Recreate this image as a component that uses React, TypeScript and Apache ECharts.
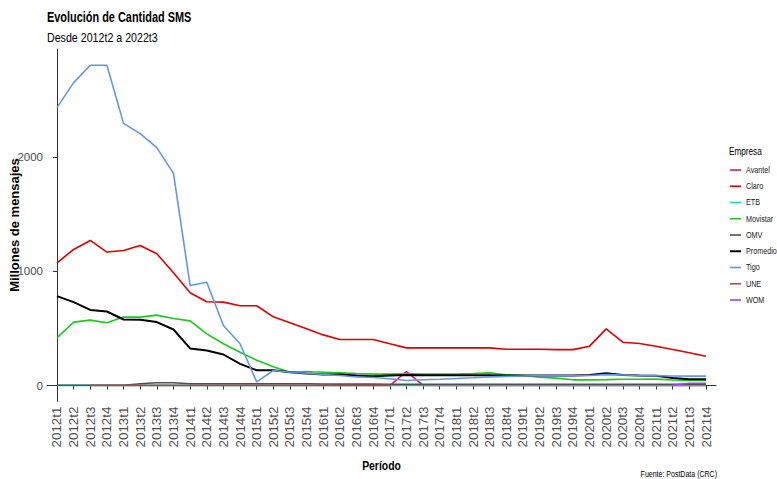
import React, { useEffect, useRef } from "react";
import * as echarts from "echarts";

const periods = [
  "2012t1", "2012t2", "2012t3", "2012t4",
  "2013t1", "2013t2", "2013t3", "2013t4",
  "2014t1", "2014t2", "2014t3", "2014t4",
  "2015t1", "2015t2", "2015t3", "2015t4",
  "2016t1", "2016t2", "2016t3", "2016t4",
  "2017t1", "2017t2", "2017t3", "2017t4",
  "2018t1", "2018t2", "2018t3", "2018t4",
  "2019t1", "2019t2", "2019t3", "2019t4",
  "2020t1", "2020t2", "2020t3", "2020t4",
  "2021t1", "2021t2", "2021t3", "2021t4",
];

const N = null;

const avantel = [
  N, N, N, N, N, N, N, N, N, N, N, N, N, N, N, N, N, N, N, N,
  0, 123, 1, 1, 1, 1, 1, 1, 1, 1, 1, 1, 1, 1, 1, 1, 1, 1, 1, 1,
];
const claro = [
  1076, 1193, 1272, 1170, 1184, 1228, 1155, 988, 813, 734, 731, 699,
  699, 602, 550, 497, 444, 404, 404, 404, 366, 330, 330, 330, 330, 330,
  330, 318, 318, 318, 315, 315, 345, 497, 380, 368, 345, 316, 287, 257,
];
const etb = [
  1, 1, 1, 1, 1, 1, 1, 1, 1, 1, 1, 1, 1, 1, 1, 1, 1, 1, 1, 1,
  1, 1, 1, 1, 1, 1, 1, 1, 1, 1, 1, 1, 1, 1, 1, 1, 1, 1, 1, 1,
];
const movistar = [
  418, 556, 573, 550, 600, 600, 617, 588, 567, 453, 366, 292,
  222, 164, 117, 123, 117, 111, 105, 100, 100, 102, 100, 100, 100, 105,
  111, 95, 88, 73, 65, 50, 50, 52, 55, 55, 56, 48, 45, 45,
];
const omv = [
  2, 2, 2, 2, 3, 15, 25, 25, 15, 15, 15, 15, 15, 15, 15, 15, 14, 12, 12, 12,
  10, 10, 10, 10, 10, 10, 10, 10, 10, 10, 10, 10, 10, 10, 10, 10, 10, 10, 10, 10,
];
const promedio = [
  784, 731, 663, 649, 579, 576, 556, 491, 325, 307, 272, 190,
  134, 134, 117, 105, 96, 96, 88, 82, 88, 93, 90, 90, 90, 90,
  90, 88, 88, 88, 88, 88, 92, 108, 92, 88, 85, 65, 56, 56,
];
const tigo = [
  2436, 2655, 2808, 2808, 2298, 2208, 2085, 1860, 877, 906, 526, 366,
  32, 132, 117, 108, 96, 88, 75, 70, 60, 44, 50, 55, 61, 68,
  76, 80, 84, 87, 87, 88, 88, 96, 92, 88, 87, 84, 82, 82,
];
const une = [
  N, N, 1, 1, 1, 1, 1, 1, 1, 1, 1, 1, 1, 1, 1, 1, 1, 1, 1, 1,
  1, N, N, N, N, N, N, N, N, N, N, N, N, N, N, N, N, N, N, N,
];
const wom = [
  N, N, N, N, N, N, N, N, N, N, N, N, N, N, N, N, N, N, N, N,
  N, N, N, N, N, N, N, N, N, N, N, N, N, N, N, N, N, 5, 20, 20,
];

const seriesNames = ["Avantel", "Claro", "ETB", "Movistar", "OMV", "Promedio", "Tigo", "UNE", "WOM"];
const seriesValues = [avantel, claro, etb, movistar, omv, promedio, tigo, une, wom];
const seriesColors = ["#D4147C", "#E00000", "#22D0C8", "#1DC81D", "#505050", "#000000", "#6495ED", "#B0474A", "#A040F0"];
const yTicks = [0, 1000, 2000];

const FONT = "'Liberation Sans', Arial, sans-serif";

function txt(
  x: number, y: number, text: string, size: number, weight: string,
  sx: number, align: string = "left", fill: string = "#000", rotation: number = 0
) {
  return {
    type: "text",
    x, y, scaleX: sx, scaleY: 1, rotation,
    silent: true,
    style: {
      x: 0, y: 0, text,
      font: `${weight} ${size}px ${FONT}`,
      fill, align, verticalAlign: "middle",
    },
  };
}

export default function App() {
  const ref = useRef<HTMLDivElement>(null);
  useEffect(() => {
    const chart = echarts.init(ref.current!, null, { renderer: "svg" });
    const xIdx = periods.map((_, i) => i);

    const legendItems: any[] = [];
    seriesNames.forEach((name, k) => {
      const y = 170 + k * 16.25;
      legendItems.push({
        type: "line",
        silent: true,
        shape: { x1: 730, y1: y, x2: 741, y2: y },
        style: { stroke: seriesColors[k], lineWidth: name === "Promedio" ? 2 : 1.6 },
      });
      legendItems.push(txt(746, y, name, 9, "normal", 0.8, "left", "#1a1a1a"));
    });

    chart.setOption({
      animation: false,
      backgroundColor: "#ffffff",
      grid: { left: 47, right: 61, top: 49, bottom: 77.5, containLabel: false, outerBoundsMode: "none" },
      xAxis: {
        type: "value",
        min: -0.6, max: 39.6,
        axisLine: { lineStyle: { color: "#333", width: 1 } },
        axisTick: { show: true, customValues: xIdx, length: 4, lineStyle: { color: "#333" } },
        axisLabel: {
          customValues: xIdx,
          rotate: 90,
          margin: 5,
          fontFamily: FONT,
          fontSize: 13.4,
          color: "#4D4D4D",
          formatter: (v: number) => periods[Math.round(v)] ?? "",
        },
        splitLine: { show: false },
      },
      yAxis: {
        type: "value",
        min: -140, max: 2950,
        axisLine: { show: true, lineStyle: { color: "#333", width: 1 } },
        axisTick: { show: true, customValues: yTicks, length: 4, lineStyle: { color: "#333" } },
        axisLabel: {
          customValues: yTicks,
          margin: 4,
          fontFamily: FONT,
          fontSize: 11.5,
          color: "#4D4D4D",
          formatter: (v: number) => String(v),
        },
        splitLine: { show: false },
      },
      graphic: [
        txt(47, 18, "Evolución de Cantidad SMS", 14, "bold", 0.78),
        txt(47, 38, "Desde 2012t2 a 2022t3", 13, "normal", 0.82),
        txt(729, 152, "Empresa", 10, "normal", 0.82),
        txt(381.5, 465, "Período", 13, "bold", 0.8, "center"),
        txt(717, 474, "Fuente: PostData (CRC)", 9, "normal", 0.78, "right"),
        txt(14, 225, "Millones de mensajes", 13, "bold", 1, "center", "#000", Math.PI / 2),
        ...legendItems,
      ],
      series: seriesNames.map((name, k) => ({
        name,
        type: "line",
        symbol: "none",
        connectNulls: false,
        color: seriesColors[k],
        lineStyle: { color: seriesColors[k], width: name === "Promedio" ? 2 : 1.6 },
        data: seriesValues[k].map((v, i) => [i, v]),
      })),
    });
    return () => chart.dispose();
  }, []);
  return <div ref={ref} style={{ position: "fixed", left: 0, top: 0, width: 777, height: 479 }} />;
}
